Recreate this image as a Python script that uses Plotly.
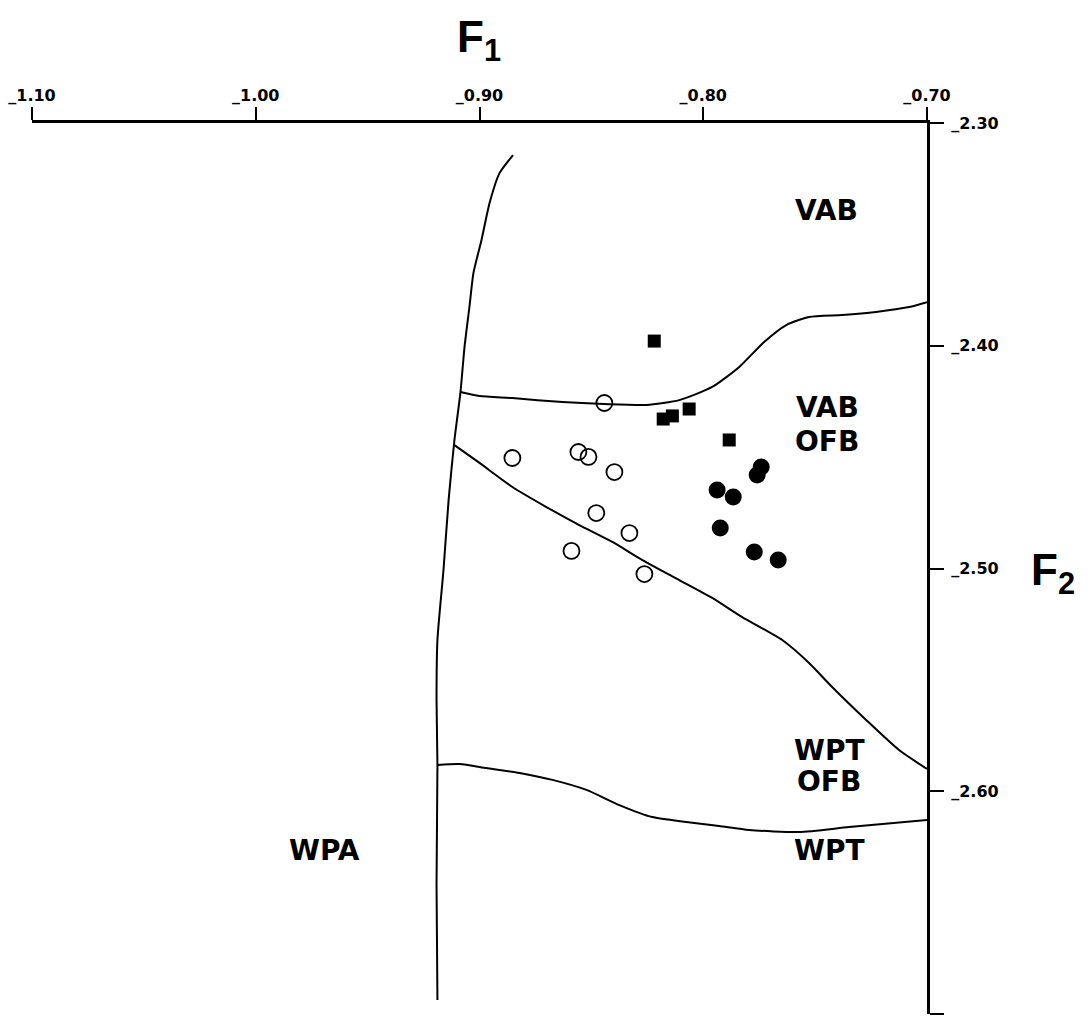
import plotly.graph_objects as go

# ---- axis ticks ----
x_ticks = [-1.10, -1.00, -0.90, -0.80, -0.70]
x_tick_labels = ["_1.10", "_1.00", "_0.90", "_0.80", "_0.70"]
y_ticks = [-2.30, -2.40, -2.50, -2.60, -2.70]
y_tick_labels = ["_2.30", "_2.40", "_2.50", "_2.60", "_2.70"]

# ---- boundary curves (F1, F2) ----
wpa_bound_x = [-0.885, -0.891, -0.8955, -0.8991, -0.9027, -0.9045, -0.9067, -0.9085,
               -0.9112, -0.9138, -0.9161, -0.9188, -0.9192, -0.9188, -0.9192, -0.9188]
wpa_bound_y = [-2.3144, -2.3224, -2.3359, -2.3525, -2.3673, -2.3826, -2.4006, -2.4208,
               -2.4423, -2.4692, -2.5007, -2.5321, -2.5590, -2.5882, -2.6421, -2.6937]

vab_bound_x = [-0.9085, -0.900, -0.8853, -0.8629, -0.8442, -0.8254, -0.8107, -0.7960,
               -0.7839, -0.7728, -0.7629, -0.7527, -0.7379, -0.7228, -0.7080, -0.700]
vab_bound_y = [-2.4208, -2.4226, -2.4235, -2.4253, -2.4262, -2.4266, -2.4244, -2.4185,
               -2.4095, -2.3983, -2.3907, -2.3871, -2.3862, -2.3848, -2.3826, -2.3804]

ofb_bound_x = [-0.9112, -0.900, -0.8853, -0.8701, -0.8554, -0.8406, -0.8272, -0.8107,
               -0.7960, -0.7826, -0.7647, -0.7527, -0.7424, -0.7272, -0.7125, -0.700]
ofb_bound_y = [-2.4446, -2.4526, -2.4634, -2.4724, -2.4805, -2.4881, -2.4962, -2.5052,
               -2.5132, -2.5218, -2.5321, -2.5424, -2.5532, -2.5680, -2.5815, -2.5900]

wpt_bound_x = [-0.9188, -0.9089, -0.8969, -0.8821, -0.8674, -0.8522, -0.8375, -0.8228,
               -0.8076, -0.7929, -0.7795, -0.7571, -0.7348, -0.700]
wpt_bound_y = [-2.5882, -2.5878, -2.5896, -2.5918, -2.5949, -2.5994, -2.6062, -2.6116,
               -2.6138, -2.6156, -2.6174, -2.6183, -2.6161, -2.6129]

# ---- sample points ----
open_x = [-0.8442, -0.8853, -0.8558, -0.8513, -0.8397, -0.8478, -0.8330, -0.8589, -0.8263]
open_y = [-2.4257, -2.4504, -2.4477, -2.4499, -2.4567, -2.4751, -2.4841, -2.4921, -2.5025]

square_x = [-0.8219, -0.8179, -0.8138, -0.8063, -0.7884]
square_y = [-2.3979, -2.4329, -2.4315, -2.4284, -2.4423]

filled_x = [-0.7741, -0.7759, -0.7938, -0.7866, -0.7924, -0.7772, -0.7665]
filled_y = [-2.4544, -2.4580, -2.4648, -2.4679, -2.4818, -2.4926, -2.4962]

# ---- region labels ----
region_text = ["VAB", "VAB", "OFB", "WPT", "OFB", "WPT", "WPA"]
region_x = [-0.7451, -0.7446, -0.7446, -0.7438, -0.7438, -0.7438, -0.9692]
region_y = [-2.3391, -2.4275, -2.4428, -2.5815, -2.5955, -2.6268, -2.6268]

FONT = "Liberation Sans, Arial, sans-serif"
HEAVY = "DejaVu Sans, Liberation Sans, sans-serif"

fig = go.Figure()
line_style = dict(color="black", width=2, shape="spline", smoothing=0.6)
for bx, by in [(wpa_bound_x, wpa_bound_y), (vab_bound_x, vab_bound_y),
               (ofb_bound_x, ofb_bound_y), (wpt_bound_x, wpt_bound_y)]:
    fig.add_trace(go.Scatter(x=bx, y=by, mode="lines", line=line_style,
                             hoverinfo="skip"))

fig.add_trace(go.Scatter(x=open_x, y=open_y, mode="markers",
                         marker=dict(symbol="circle-open", size=16, color="black",
                                     line=dict(width=1.8, color="black"))))
fig.add_trace(go.Scatter(x=square_x, y=square_y, mode="markers",
                         marker=dict(symbol="square", size=13, color="black",
                                     line=dict(width=0))))
fig.add_trace(go.Scatter(x=filled_x, y=filled_y, mode="markers",
                         marker=dict(symbol="circle", size=17, color="black",
                                     line=dict(width=0))))

for t, xx, yy in zip(region_text, region_x, region_y):
    fig.add_annotation(x=xx, y=yy, xref="x", yref="y", text=t, showarrow=False,
                       xanchor="center", yanchor="middle",
                       font=dict(family=HEAVY, size=28, color="black", weight="bold"))

fig.add_annotation(x=0.499, y=1.093, xref="paper", yref="paper",
                   text="F<sub>1</sub>", showarrow=False,
                   xanchor="center", yanchor="middle",
                   font=dict(family=FONT, size=44, color="black", weight="bold"))
fig.add_annotation(x=1.141, y=0.495, xref="paper", yref="paper",
                   text="F<sub>2</sub>", showarrow=False,
                   xanchor="center", yanchor="middle",
                   font=dict(family=FONT, size=44, color="black", weight="bold"))

tickfont = dict(family=HEAVY, size=16, color="black", weight="bold")
fig.update_layout(
    width=1080, height=1008,
    margin=dict(l=24, r=161, t=115, b=2),
    paper_bgcolor="white", plot_bgcolor="white",
    showlegend=False,
    xaxis=dict(range=[-1.10, -0.70], side="top", showline=True, linecolor="black",
               linewidth=2.5, ticks="outside", ticklen=13, tickwidth=2,
               tickcolor="black", tickvals=x_ticks, ticktext=x_tick_labels,
               tickfont=tickfont, showgrid=False, zeroline=False,
               ticklabelstandoff=0, automargin=False),
    yaxis=dict(range=[-2.70, -2.30], side="right", showline=True, linecolor="black",
               linewidth=3, ticks="outside", ticklen=14, tickwidth=2,
               tickcolor="black", tickvals=y_ticks, ticktext=y_tick_labels,
               tickfont=tickfont, showgrid=False, zeroline=False,
               ticklabelstandoff=4, automargin=False),
)

fig.write_html("out.html")
